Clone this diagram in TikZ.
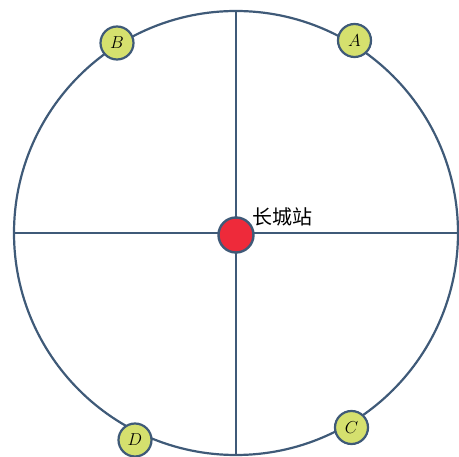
\documentclass[tikz,border=0pt]{standalone}
\usepackage{fontspec}
\newfontfamily\cjk{Noto Sans CJK SC}
\definecolor{linecol}{HTML}{3F5A78}
\definecolor{ptfill}{HTML}{D5E06E}
\definecolor{stnred}{HTML}{EE2A3A}
\begin{document}
\begin{tikzpicture}[
  x=1pt, y=-1pt,
  ring/.style={draw=linecol, line width=2.2pt},
  axis/.style={draw=linecol, line width=2.2pt},
  pt/.style={circle, draw=linecol, line width=2.2pt, fill=ptfill, minimum size=33pt, inner sep=0pt, font=\fontsize{19}{19}\selectfont},
  station/.style={circle, draw=linecol, line width=2.4pt, fill=stnred, minimum size=35pt, inner sep=0pt}
]
\useasboundingbox (0,0) rectangle (459,457);
\coordinate (o) at (236,233);
\draw[ring] (o) circle[radius=222];
\coordinate (w) at (14,233);
\coordinate (e) at (458,233);
\coordinate (n) at (236,11);
\coordinate (s) at (236,455);
\draw[axis] (w) -- (e);
\draw[axis] (n) -- (s);
\node[station] (stn) at (236,235) {};
\node[anchor=west, inner sep=0pt, font=\cjk\fontsize{20}{20}\selectfont] (lbl) at (252,217) {长城站};
\node[pt] (A) at (354.5,40.5) {$A$};
\node[pt] (B) at (117,43) {$B$};
\node[pt] (C) at (351.5,427.5) {$C$};
\node[pt] (D) at (135,440) {$D$};
\end{tikzpicture}
\end{document}
